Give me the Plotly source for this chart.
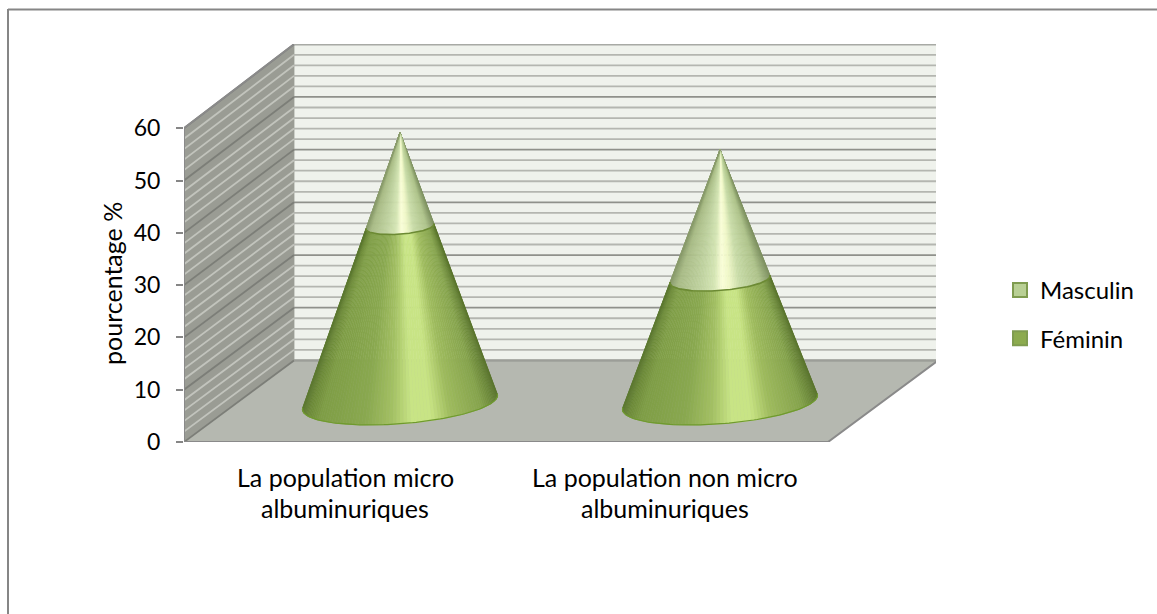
import numpy as np
import plotly.graph_objects as go

# Values
categories = [
    ['La population micro', 'albuminuriques'],
    ['La population non micro', 'albuminuriques'],
]
feminin = [33.6, 23.5]
masculin = [18.0, 24.8]
y_ticks = [0, 10, 20, 30, 40, 50, 60]
grid_minor = [v for v in range(0, 62, 2) if v % 10 != 0]

# Plot area in pixels, the axes below are fitted on it
W, H = 1157, 614
L, R, T, B = 184, 221, 44, 172
X_UNIT = 320.0  # px per category
Y_UNIT = 5.23  # px per value unit

x_min = -161 / X_UNIT
x_max = x_min + (W - L - R) / X_UNIT
y_max = (H - T - B) / Y_UNIT

# Oblique 3D box: the back wall is shifted right and up from the front plane
DEPTH_X = 110 / X_UNIT
DEPTH_Y = 15.6
BACK_SCALE = 1.0075
x_front0, x_front1 = x_min, 1.5 + 3 / X_UNIT
x_back0, x_back1 = x_front0 + DEPTH_X, x_front1 + DEPTH_X

# Cone base as seen on the floor
CONE_R = 92.6 / X_UNIT
CONE_AX = 30.6 / X_UNIT
CONE_AY = 22.5 / Y_UNIT
N_STRIPS = 90

fem_stops = [(0, '#5c7830'), (0.03, '#6d8b38'), (0.09, '#7f9e46'), (0.32, '#8aa950'),
             (0.46, '#a4c164'), (0.56, '#c8e486'), (0.66, '#c9e585'), (0.76, '#9fbc5e'),
             (0.92, '#86a44d'), (0.97, '#6d8a3a'), (1, '#5a752d')]
mas_stops = [(0, '#8a9c6c'), (0.07, '#a8bb85'), (0.3, '#c0d3a0'), (0.44, '#d5e6b4'),
             (0.52, '#fbffd9'), (0.6, '#f0f8c8'), (0.7, '#c9dca8'), (0.9, '#aec38a'),
             (1, '#7f9262')]


def ramp(stops, u):
    pos = [s[0] for s in stops]
    rgb = [[int(s[1][i:i + 2], 16) for s in stops] for i in (1, 3, 5)]
    r, g, b = [int(np.interp(u, pos, c)) for c in rgb]
    return f'rgb({r},{g},{b})'


def polygon(xs, ys, color):
    return go.Scatter(x=xs, y=ys, mode='lines', fill='toself', fillcolor=color,
                      line=dict(color=color, width=0.8), showlegend=False, hoverinfo='skip')


def grid_lines(values, x0, x1, y_of):
    xs, ys = [], []
    for v in values:
        xs += [x0, x1, None]
        ys += [y_of(v)[0], y_of(v)[1], None]
    return xs, ys


def back_y(v):
    return DEPTH_Y + v * BACK_SCALE


def cone_point(theta, cx, y0, height, level):
    s = 1 - level / height
    x = cx + s * (CONE_R * np.cos(theta) - CONE_AX * np.sin(theta))
    y = y0 + level - s * CONE_AY * np.sin(theta)
    return x, y


fig = go.Figure()

# Walls and floor
fig.add_trace(polygon([x_back0, x_back1, x_back1, x_back0], [back_y(0), back_y(0), back_y(60), back_y(60)], '#eff2ec'))
fig.add_trace(polygon([x_front0, x_back0, x_back0, x_front0], [0, back_y(0), back_y(60), 60], '#9a9c94'))
fig.add_trace(polygon([x_front0, x_front1, x_back1, x_back0], [0, 0, back_y(0), back_y(0)], '#b5b8b0'))

# Gridlines on both walls
for values, back_col, side_col, width in [(grid_minor, '#b4b6b0', '#c2c4bd', 1.8), (y_ticks, '#8f918b', '#7c7e78', 1.8)]:
    xs, ys = grid_lines(values, x_back0, x_back1, lambda v: (back_y(v), back_y(v)))
    fig.add_trace(go.Scatter(x=xs, y=ys, mode='lines', line=dict(color=back_col, width=width),
                             showlegend=False, hoverinfo='skip'))
    xs, ys = grid_lines(values, x_front0, x_back0, lambda v: (v, back_y(v)))
    fig.add_trace(go.Scatter(x=xs, y=ys, mode='lines', line=dict(color=side_col, width=width),
                             showlegend=False, hoverinfo='skip'))

# Floor edges and the front axis lines
fig.add_trace(go.Scatter(x=[x_back0, x_back1], y=[back_y(0), back_y(0)], mode='lines',
                         line=dict(color='#9c9e98', width=2), showlegend=False, hoverinfo='skip'))
fig.add_trace(go.Scatter(x=[x_back1, x_front1, x_front0, x_front0, x_back0, x_back0],
                         y=[back_y(0), 0, 0, 60, back_y(60), back_y(60)], mode='lines',
                         line=dict(color='#8a8a8a', width=2), showlegend=False, hoverinfo='skip'))
fig.add_trace(go.Scatter(x=[x_back0, x_back1], y=[back_y(60), back_y(60)], mode='lines',
                         line=dict(color='#a8aaa5', width=2), showlegend=False, hoverinfo='skip'))

# Cones, one narrow strip at a time so the shading converges on the apex
for i in range(len(categories)):
    cx = i + DEPTH_X / 2
    y0 = DEPTH_Y * 0.485
    height = feminin[i] + masculin[i]
    width = np.hypot(CONE_R, CONE_AX)
    phi = np.arctan2(CONE_AX, CONE_R)
    k = CONE_R * CONE_AY / (height * width)
    t0, t1 = -np.arcsin(k) - phi, np.pi + np.arcsin(k) - phi
    thetas = np.linspace(t0, t1, N_STRIPS + 1)

    for low, high, stops in [(feminin[i], height, mas_stops), (0, feminin[i], fem_stops)]:
        for a, b in zip(thetas[:-1], thetas[1:]):
            xa0, ya0 = cone_point(a, cx, y0, height, low)
            xb0, yb0 = cone_point(b, cx, y0, height, low)
            xa1, ya1 = cone_point(a, cx, y0, height, high)
            xb1, yb1 = cone_point(b, cx, y0, height, high)
            u = 0.5 + ((xa0 + xb0) / 2 - cx) / (2 * (1 - low / height) * width)
            fig.add_trace(polygon([xa0, xb0, xb1, xa1], [ya0, yb0, yb1, ya1], ramp(stops, u)))

    # Rims at the base and where the two series meet
    t = np.linspace(t0, t1, 90)
    for level, col, lw in [(0, '#6f9a2e', 1.2), (feminin[i], '#6c8a34', 1.6)]:
        xs, ys = cone_point(t, cx, y0, height, level)
        fig.add_trace(go.Scatter(x=xs, y=ys, mode='lines', line=dict(color=col, width=lw),
                                 showlegend=False, hoverinfo='skip'))

# Legend entries
for name, fill in [('Masculin', '#b9d094'), ('Féminin', '#8cab4e')]:
    fig.add_trace(go.Scatter(x=[None], y=[None], mode='markers', name=name, legendgroup=name,
                             marker=dict(symbol='square', size=14, color=fill,
                                         line=dict(color='#7f9c4f', width=2))))

# Category labels, one annotation per line because the line gap is wider than plotly's
for i, lines in enumerate(categories):
    for n, text in enumerate(lines):
        fig.add_annotation(x=i, y=0, xref='x', yref='y', yanchor='middle', text=text, showarrow=False,
                           yshift=-(35 + 31 * n), font=dict(family='Lato', size=25, color='#000000'))

# Axis title sits below the middle of the axis, so it can't be a regular axis title
fig.add_annotation(xref='paper', yref='paper', x=(112 - L) / (W - L - R), y=1 - (284 - T) / (H - T - B),
                   xanchor='center', yanchor='middle', text='pourcentage %', textangle=-90, showarrow=False,
                   font=dict(family='Lato', size=25, color='#000000'))

fig.update_layout(
    width=W,
    height=H,
    margin=dict(l=L, r=R, t=T, b=B, pad=0),
    paper_bgcolor='white',
    plot_bgcolor='white',
    font=dict(family='Lato', size=23, color='#000000'),
    xaxis=dict(range=[x_min, x_max], showgrid=False, zeroline=False, showline=False,
               showticklabels=False, ticks='', fixedrange=True),
    yaxis=dict(range=[0, y_max], tickvals=y_ticks, showgrid=False, zeroline=False, showline=False,
               ticks='outside', ticklen=7, tickwidth=2, tickcolor='#868686', ticklabelstandoff=11,
               fixedrange=True),
    legend=dict(x=(1000 - L) / (W - L - R), y=1 - (268 - T) / (H - T - B), xanchor='left', yanchor='top',
                tracegroupgap=14, bgcolor='rgba(0,0,0,0)', font=dict(size=24), itemwidth=30),
    shapes=[
        # Chart frame: only the top and left sides show
        dict(type='line', xref='paper', yref='paper', x0=(8 - L) / (W - L - R), x1=(W - L) / (W - L - R),
             y0=1 + (T - 9.5) / (H - T - B), y1=1 + (T - 9.5) / (H - T - B), line=dict(color='#868686', width=2)),
        dict(type='line', xref='paper', yref='paper', x0=(8 - L) / (W - L - R), x1=(8 - L) / (W - L - R),
             y0=1 + (T - 9) / (H - T - B), y1=1 + (T - H) / (H - T - B), line=dict(color='#868686', width=2)),
    ],
)

fig.write_html("out.html", config=dict(displayModeBar=False), post_script="document.body.style.margin='0';")
